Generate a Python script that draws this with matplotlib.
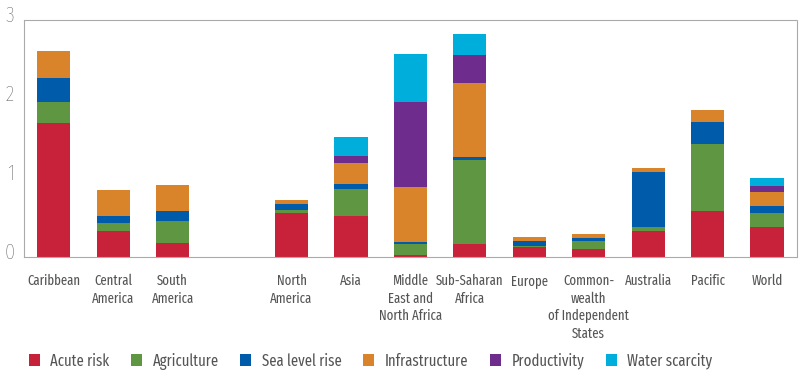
import matplotlib.pyplot as plt
import matplotlib.transforms as mtransforms
import numpy as np

# values (stacked, bottom to top)
regions = ["Caribbean", "Central\nAmerica", "South\nAmerica", "",
           "North\nAmerica", "Asia", "Middle\nEast and\nNorth Africa",
           "Sub-Saharan\nAfrica", "Europe", "Common-\nwealth\nof Independent\nStates",
           "Australia", "Pacific", "World"]

acute_risk     = [1.69, 0.33, 0.17, 0, 0.56, 0.52, 0.03, 0.16, 0.13, 0.10, 0.33, 0.58, 0.38]
agriculture    = [0.27, 0.10, 0.29, 0, 0.03, 0.34, 0.13, 1.07, 0.01, 0.095, 0.05, 0.85, 0.18]
sea_level_rise = [0.30, 0.09, 0.12, 0, 0.08, 0.06, 0.03, 0.03, 0.055, 0.045, 0.69, 0.28, 0.08]
infrastructure = [0.34, 0.33, 0.33, 0, 0.05, 0.27, 0.70, 0.94, 0.06, 0.045, 0.06, 0.15, 0.18]
productivity   = [0.01, 0, 0, 0, 0, 0.09, 1.07, 0.35, 0, 0, 0, 0, 0.08]
water_scarcity = [0, 0, 0, 0, 0, 0.24, 0.61, 0.27, 0, 0, 0, 0, 0.10]

series = ["Acute risk", "Agriculture", "Sea level rise", "Infrastructure",
          "Productivity", "Water scarcity"]
colors = ["#C8213A", "#5E9642", "#005BAA", "#D9832A", "#6E2C8C", "#00AEDB"]

plt.rcParams['font.family'] = ['Fira Sans Extra Condensed', 'DejaVu Sans']

fig = plt.figure(figsize=(8, 3.75), dpi=100)
ax = fig.add_axes([0.03, 0.315, 0.966, 0.632])

x = np.arange(len(regions))
bottom = np.zeros(len(regions))
for name, vals, c in zip(series, [acute_risk, agriculture, sea_level_rise,
                                  infrastructure, productivity, water_scarcity], colors):
    vals = np.array(vals)
    ax.bar(x, vals, width=0.56, bottom=bottom, color=c, label=name,
           edgecolor="none")
    bottom += vals

ax.set_xlim(-0.5, 12.5)
ax.set_ylim(0, 3)

for s in ax.spines.values():
    s.set_linestyle((0, (1, 1)))
    s.set_color("#aaaaaa")
    s.set_linewidth(0.8)

ax.set_yticks([0, 1, 2, 3])
ax.set_yticklabels(["0", "1", "2", "3"], fontsize=16, color="#555555",
                   fontweight="light")
ax.tick_params(axis="y", length=0, pad=7)
offset = mtransforms.ScaledTranslation(0, 6 / 100, fig.dpi_scale_trans)
for lab in ax.get_yticklabels():
    lab.set_transform(lab.get_transform() + offset)
    lab.set_clip_on(False)

ax.set_xticks(x)
ax.set_xticklabels(regions, fontsize=10, color="#555555", va="top",
                   linespacing=1.3)
ax.tick_params(axis="x", length=0, pad=12)

fig.legend(loc="center left", bbox_to_anchor=(0.018, 0.037), ncol=6,
           frameon=False, fontsize=11.5, labelcolor="#555555",
           handlelength=0.7, handleheight=0.7, handletextpad=0.65,
           columnspacing=1.35)

fig.savefig("out.png", dpi=100)
